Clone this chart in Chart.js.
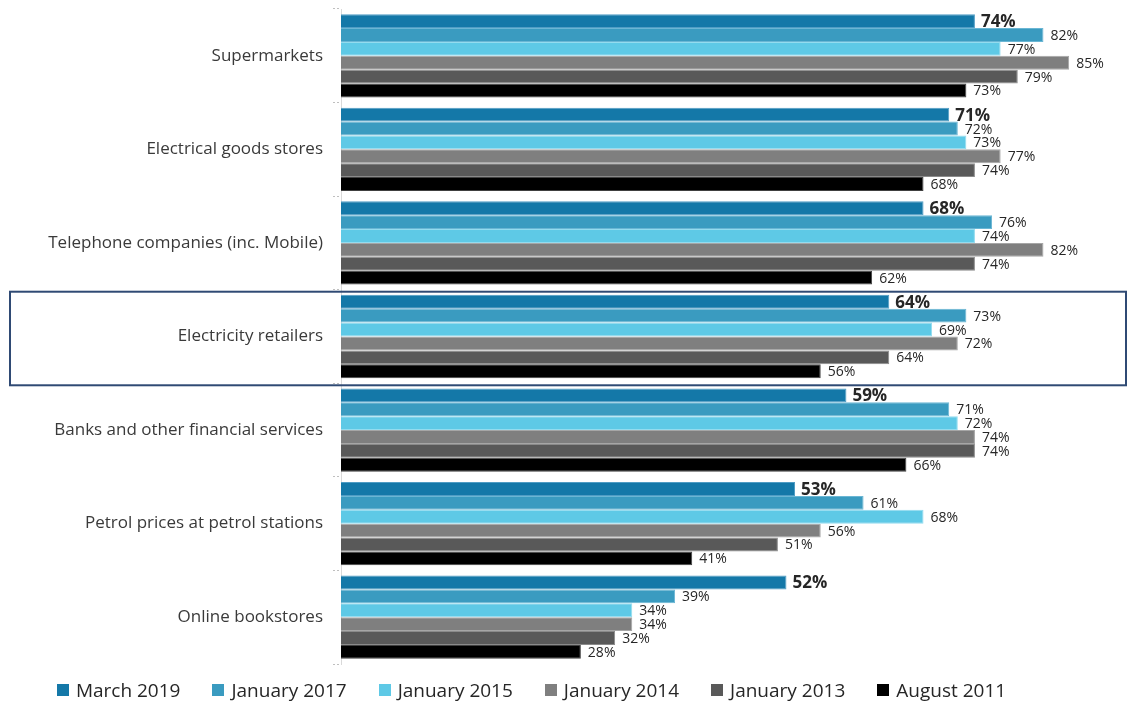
<!DOCTYPE html>
<html>
<head>
<meta charset="utf-8">
<script src="https://cdn.jsdelivr.net/npm/chart.js@4.4.1/dist/chart.umd.min.js"></script>
<style>
  html, body { margin: 0; padding: 0; background: #fff; }
  .wrap { position: relative; width: 1129px; height: 704px; }
  canvas { display: block; }
  #legend {
    position: absolute; left: 0; top: 677px; width: 1063px;
    display: flex; justify-content: center; gap: 32px;
    font: 19px "Open Sans", sans-serif; color: #262626;
  }
  #legend .item { display: flex; align-items: center; white-space: nowrap; }
  #legend .sw { width: 12px; height: 12px; margin-right: 7px; }
</style>
</head>
<body>
<div class="wrap">
  <canvas id="chart" width="1129" height="704"></canvas>
  <div id="legend"></div>
</div>
<script>
// Trust by sector, six survey waves, horizontal grouped bars
const categories = [
  "Supermarkets",
  "Electrical goods stores",
  "Telephone companies (inc. Mobile)",
  "Electricity retailers",
  "Banks and other financial services",
  "Petrol prices at petrol stations",
  "Online bookstores",
];
const waves = ["March 2019", "January 2017", "January 2015", "January 2014", "January 2013", "August 2011"];
const march2019 = [74, 71, 68, 64, 59, 53, 52];
const jan2017 = [82, 72, 76, 73, 71, 61, 39];
const jan2015 = [77, 73, 74, 69, 72, 68, 34];
const jan2014 = [85, 77, 82, 72, 74, 56, 34];
const jan2013 = [79, 74, 74, 64, 74, 51, 32];
const aug2011 = [73, 68, 62, 56, 66, 41, 28];
const highlighted = "Electricity retailers";

const COLORS = ["#1478a8", "#3a9bc0", "#5ec9e6", "#7f7f7f", "#595959", "#000000"];
const EDGES = ["#4f9cc4", "#6ab6d4", "#93dcef", "#a6a6a6", "#8a8a8a", "#404040"];
const FONT = "'Open Sans', sans-serif";

const series = [march2019, jan2017, jan2015, jan2014, jan2013, aug2011];

// value labels to the right of each bar; latest wave in bold
const valueLabels = {
  id: "valueLabels",
  afterDatasetsDraw(chart) {
    const { ctx } = chart;
    ctx.save();
    ctx.textBaseline = "middle";
    ctx.fillStyle = "#262626";
    chart.data.datasets.forEach((ds, di) => {
      const meta = chart.getDatasetMeta(di);
      ctx.font = di === 0 ? `bold 17px ${FONT}` : `14px ${FONT}`;
      meta.data.forEach((bar, i) => {
        ctx.fillText(ds.data[i] + "%", bar.x + (di === 0 ? 6 : 7), bar.y + 1);
      });
    });
    ctx.restore();
  },
};

// outline around the highlighted sector's band
const highlightBox = {
  id: "highlightBox",
  afterDraw(chart) {
    const y = chart.scales.y;
    const idx = categories.indexOf(highlighted);
    const half = (y.getPixelForValue(1) - y.getPixelForValue(0)) / 2;
    const cy = y.getPixelForValue(idx);
    const { ctx } = chart;
    ctx.save();
    ctx.strokeStyle = "#2f4a74";
    ctx.lineWidth = 2;
    ctx.strokeRect(10, cy - half + 2, chart.width - 13, half * 2);
    ctx.restore();
  },
};

new Chart(document.getElementById("chart"), {
  type: "bar",
  data: {
    labels: categories,
    datasets: waves.map((name, i) => ({
      label: name,
      data: series[i],
      backgroundColor: COLORS[i],
      borderColor: EDGES[i],
      borderWidth: 1,
      categoryPercentage: 0.89,
      barPercentage: 1.0,
    })),
  },
  options: {
    indexAxis: "y",
    responsive: false,
    animation: false,
    layout: { autoPadding: false, padding: { top: 9, bottom: 40, left: 0, right: 17 } },
    plugins: { legend: { display: false }, tooltip: { enabled: false } },
    scales: {
      x: { display: false, min: 0, max: 90 },
      y: {
        // fixed axis width; labels sit well inside their bands, so no extra edge padding
        afterFit: (s) => { s.width = 341; s.paddingTop = 0; s.paddingBottom = 0; },
        border: { display: true, color: "#d9d9d9", dash: [2, 2] },
        grid: { drawOnChartArea: false, drawTicks: true, tickLength: 8, tickColor: "#bfbfbf", tickBorderDash: [2, 2] },
        ticks: { color: "#3a3a3a", padding: 10, font: { family: FONT, size: 17 } },
      },
    },
  },
  plugins: [valueLabels, highlightBox],
});

// legend row under the chart
const legend = document.getElementById("legend");
waves.forEach((name, i) => {
  const item = document.createElement("div");
  item.className = "item";
  item.innerHTML = `<span class="sw" style="background:${COLORS[i]}"></span>${name}`;
  legend.appendChild(item);
});
</script>
</body>
</html>
